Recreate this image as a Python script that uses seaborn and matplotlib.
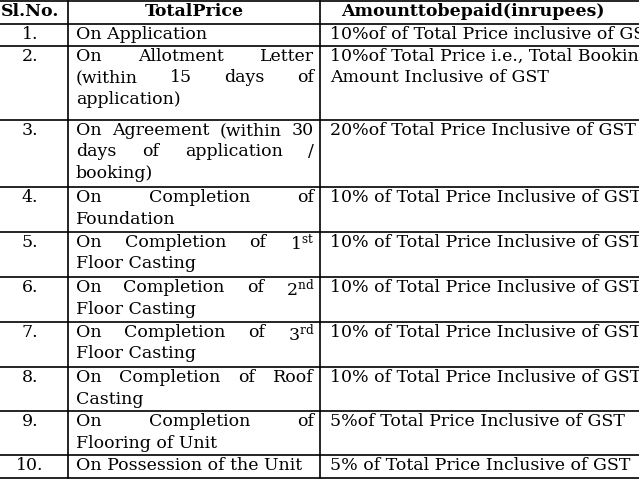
import matplotlib
matplotlib.use("Agg")
import matplotlib.pyplot as plt
import seaborn as sns

# table content
headers = ["Sl.No.", "TotalPrice", "Amounttobepaid(inrupees)"]
sl_no = ["1.", "2.", "3.", "4.", "5.", "6.", "7.", "8.", "9.", "10."]
stage = [
    ["On Application"],
    ["On Allotment Letter", "(within 15 days of", "application)"],
    ["On Agreement (within 30", "days of application /", "booking)"],
    ["On Completion of", "Foundation"],
    ["On Completion of 1$^{\\mathrm{st}}$", "Floor Casting"],
    ["On Completion of 2$^{\\mathrm{nd}}$", "Floor Casting"],
    ["On Completion of 3$^{\\mathrm{rd}}$", "Floor Casting"],
    ["On Completion of Roof", "Casting"],
    ["On Completion of", "Flooring of Unit"],
    ["On Possession of the Unit"],
]
amount = [
    ["10%of of Total Price inclusive of GST"],
    ["10%of Total Price i.e., Total Booking", "Amount Inclusive of GST"],
    ["20%of Total Price Inclusive of GST"],
    ["10% of Total Price Inclusive of GST"],
    ["10% of Total Price Inclusive of GST"],
    ["10% of Total Price Inclusive of GST"],
    ["10% of Total Price Inclusive of GST"],
    ["10% of Total Price Inclusive of GST"],
    ["5%of Total Price Inclusive of GST"],
    ["5% of Total Price Inclusive of GST"],
]

# layout (pixels)
row_edges = [1, 24, 46, 120, 187, 232, 277, 322, 367, 411, 455, 478]
col_edges = [-2, 68, 320, 645]
line_h = 21.5
fs = 12.5

sns.set_theme(style="white")
plt.rcParams["font.family"] = ["DejaVu Serif"]
plt.rcParams["mathtext.fontset"] = "dejavuserif"
plt.rcParams["text.color"] = "black"

fig = plt.figure(figsize=(6.39, 4.8), dpi=100)
ax = fig.add_axes([0, 0, 1, 1])
ax.set_xlim(0, 639)
ax.set_ylim(480, 0)
ax.axis("off")

for y in row_edges:
    ax.plot([0, 639], [y, y], color="black", lw=1.2)
for x in col_edges:
    ax.plot([x, x], [row_edges[0], row_edges[-1]], color="black", lw=1.2)

fig.canvas.draw()
renderer = fig.canvas.get_renderer()


def width_px(s, **kw):
    t = ax.text(0, 0, s, fontsize=fs, **kw)
    w = t.get_window_extent(renderer).width
    t.remove()
    return w


def justified(line, x0, x1, y, **kw):
    words = line.split(" ")
    if len(words) == 1:
        ax.text(x0, y, line, fontsize=fs, va="top", **kw)
        return
    ws = [width_px(w, **kw) for w in words]
    gap = (x1 - x0 - sum(ws)) / (len(words) - 1)
    x = x0
    for w, wd in zip(words, ws):
        ax.text(x, y, w, fontsize=fs, va="top", **kw)
        x += wd + gap


# header
hy = row_edges[0] + 2
ax.text(30, hy, headers[0], fontsize=fs, fontweight="bold", ha="center", va="top")
ax.text(194, hy, headers[1], fontsize=fs, fontweight="bold", ha="center", va="top")
ax.text(473, hy, headers[2], fontsize=fs, fontweight="bold", ha="center", va="top")

for i in range(len(sl_no)):
    top = row_edges[i + 1] + 2
    ax.text(30, top, sl_no[i], fontsize=fs, ha="center", va="top")
    lines = stage[i]
    for j, ln in enumerate(lines):
        y = top + j * line_h
        if j < len(lines) - 1:
            justified(ln, 76, 314, y)
        else:
            ax.text(76, y, ln, fontsize=fs, va="top")
    for j, ln in enumerate(amount[i]):
        ax.text(330, top + j * line_h, ln, fontsize=fs, va="top", clip_on=True)

fig.savefig("out.png", dpi=100, facecolor="white")
